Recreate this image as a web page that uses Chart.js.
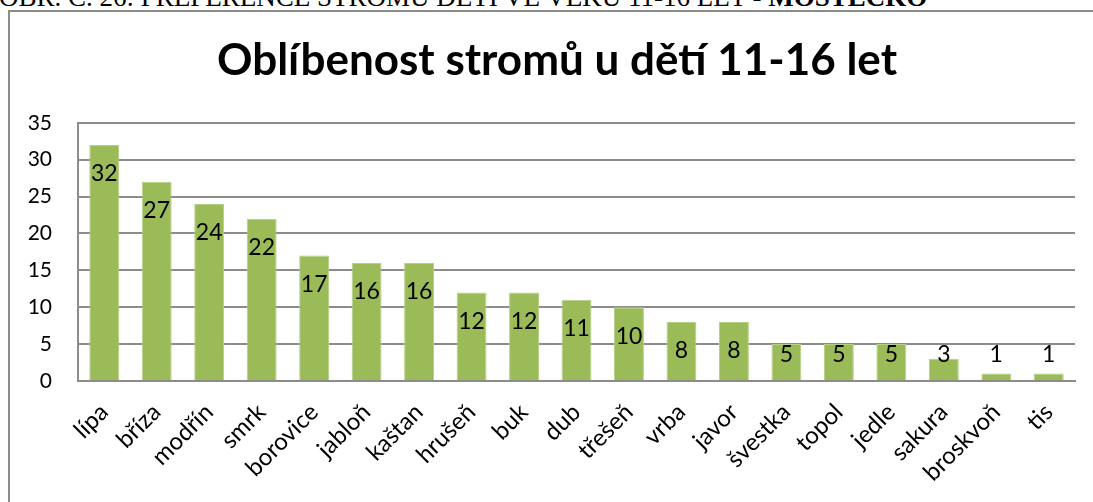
<!DOCTYPE html>
<html>
<head>
<meta charset="utf-8">
<script src="https://cdn.jsdelivr.net/npm/chart.js@4.4.1/dist/chart.umd.min.js"></script>
<style>
  html, body { margin: 0; padding: 0; background: #fff; overflow: hidden; }
  body { width: 1093px; height: 502px; position: relative; }
  #caption {
    position: absolute; left: -1px; top: -18px; white-space: nowrap;
    font-family: "Liberation Serif", serif; font-size: 27px; color: #000;
  }
  .edge { position: absolute; background: #8c8c8c; }
  #edgeTop { left: 8px; top: 10px; width: 1085px; height: 2px; }
  #edgeLeft { left: 8px; top: 10px; width: 2px; height: 492px; }
  #wrap { position: absolute; left: 0; top: 0; width: 1093px; height: 502px; }
</style>
</head>
<body>
<div id="caption">OBR. Č. 26: PREFERENCE STROMŮ DĚTÍ VE VĚKU 11-16 LET - <b>MOSTECKO</b></div>
<div class="edge" id="edgeTop"></div>
<div class="edge" id="edgeLeft"></div>
<div id="wrap"><canvas id="treeChart"></canvas></div>
<script>
const trees = ["lípa", "bříza", "modřín", "smrk", "borovice", "jabloň", "kaštan", "hrušeň", "buk",
  "dub", "třešeň", "vrba", "javor", "švestka", "topol", "jedle", "sakura", "broskvoň", "tis"];
const votes = [32, 27, 24, 22, 17, 16, 16, 12, 12, 11, 10, 8, 8, 5, 5, 5, 3, 1, 1];
const yTicks = [0, 5, 10, 15, 20, 25, 30, 35];

const FONT = "Lato, 'Open Sans', sans-serif";

// values written inside the top of each bar
const barLabels = {
  id: "barLabels",
  afterDatasetsDraw(chart) {
    const ctx = chart.ctx;
    const meta = chart.getDatasetMeta(0);
    const yScale = chart.scales.y;
    ctx.save();
    ctx.font = "23px " + FONT;
    ctx.fillStyle = "#000";
    ctx.textAlign = "center";
    ctx.textBaseline = "middle";
    meta.data.forEach((bar, i) => {
      const y = Math.min(bar.y + 29, yScale.bottom - 26);
      ctx.fillText(String(votes[i]), bar.x, y);
    });
    ctx.restore();
  }
};

// the title sits a bit right of the plot centre in the original
const titleShift = {
  id: "titleShift",
  afterLayout(chart) {
    if (chart.titleBlock) chart.titleBlock.left += 29;
  }
};

const ctx = document.getElementById("treeChart").getContext("2d");
new Chart(ctx, {
  type: "bar",
  data: {
    labels: trees,
    datasets: [{
      data: votes,
      backgroundColor: "#9bbb59",
      borderColor: "#b5cf85",
      borderWidth: 1,
      categoryPercentage: 1,
      barPercentage: 0.57
    }]
  },
  options: {
    responsive: true,
    maintainAspectRatio: false,
    animation: false,
    layout: { padding: { left: 10, right: 18, top: 0, bottom: 0 } },
    plugins: {
      legend: { display: false },
      tooltip: { enabled: false },
      title: {
        display: true,
        text: "Oblíbenost stromů u dětí 11-16 let",
        color: "#000",
        font: { family: FONT, size: 44, weight: "bold", lineHeight: 1.2 },
        padding: { top: 34, bottom: 36 }
      }
    },
    scales: {
      x: {
        grid: { display: false, drawTicks: false },
        border: { display: true, color: "#8c8c8c", width: 2 },
        ticks: {
          color: "#000",
          font: { family: FONT, size: 24 },
          minRotation: 45,
          maxRotation: 45,
          autoSkip: false,
          padding: 17
        },
        afterFit: (s) => { s.height = 121; }
      },
      y: {
        min: 0,
        max: 35,
        afterBuildTicks: (s) => { s.ticks = yTicks.map(v => ({ value: v })); },
        grid: { color: "#8c8c8c", lineWidth: 2, drawTicks: false },
        border: { display: true, color: "#8c8c8c", width: 2 },
        ticks: {
          color: "#000",
          font: { family: FONT, size: 21 },
          padding: 26
        },
        afterFit: (s) => { s.width = 68; }
      }
    }
  },
  plugins: [barLabels, titleShift]
});
</script>
</body>
</html>
